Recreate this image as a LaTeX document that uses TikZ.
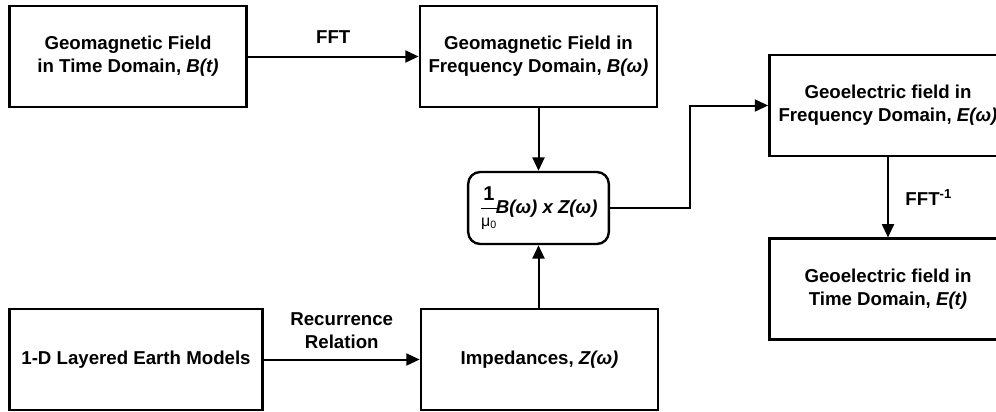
\documentclass[tikz,border=0pt]{standalone}
\usepackage{fontspec}
\setmainfont{Liberation Sans}
\usetikzlibrary{arrows.meta}
\tikzset{
  box/.style={draw, line width=1.8pt, minimum width=178pt, minimum height=75.5pt, align=center, inner sep=2pt, font=\fontsize{14}{17}\selectfont\bfseries},
  rbox/.style={draw, line width=1.8pt, rounded corners=9pt, minimum width=105.5pt, minimum height=54pt, inner sep=1pt, font=\fontsize{14}{17}\selectfont\bfseries},
  conn/.style={line width=1.5pt, -{Triangle[length=10pt,width=9pt]}},
  lbl/.style={align=center, font=\fontsize{14}{17}\selectfont\bfseries}
}
\begin{document}
\begin{tikzpicture}[x=0.75pt,y=-0.75pt]
\clip (0,0) rectangle (996,411);
\fill[white] (0,0) rectangle (996,411);
\node[box] (A) at (128,56.5) {Geomagnetic Field\\in Time Domain, \textit{B(t)}};
\node[box] (B) at (538.5,56.5) {Geomagnetic Field in\\Frequency Domain, \textit{B(ω)}};
\node[box, minimum width=190pt] (C) at (136,359.5) {1-D Layered Earth Models};
\node[box] (D) at (539.5,359.5) {Impedances, \textit{Z(ω)}};
\node[box] (F) at (888,105.5) {Geoelectric field in\\Frequency Domain, \textit{E(ω)}};
\node[box] (G) at (888,289) {Geoelectric field in\\Time Domain, \textit{E(t)}};
\node[rbox] (M) at (538.5,208) {$\displaystyle{\hbox{\fontsize{15}{15}\selectfont\bfseries 1}\above 0.8pt\hbox{\fontsize{12}{12}\selectfont\mdseries μ\textsubscript{0}}}$\kern-2pt\textit{B(ω) x Z(ω)}};
\coordinate (K) at (690,105.5);
\draw[conn] (A) -- node[lbl, above=6pt] {FFT} (B);
\draw[conn] (C) -- node[lbl, above=4pt] {Recurrence\\Relation} (D);
\draw[conn] (B.south -| M.north) -- (M.north);
\draw[conn] (D.north -| M.south) -- (M.south);
\draw[conn] (M.east) -| (K) -- (F.west);
\draw[conn] (F) -- node[lbl, right=9pt] {FFT\textsuperscript{-1}} (G);
\end{tikzpicture}
\end{document}
